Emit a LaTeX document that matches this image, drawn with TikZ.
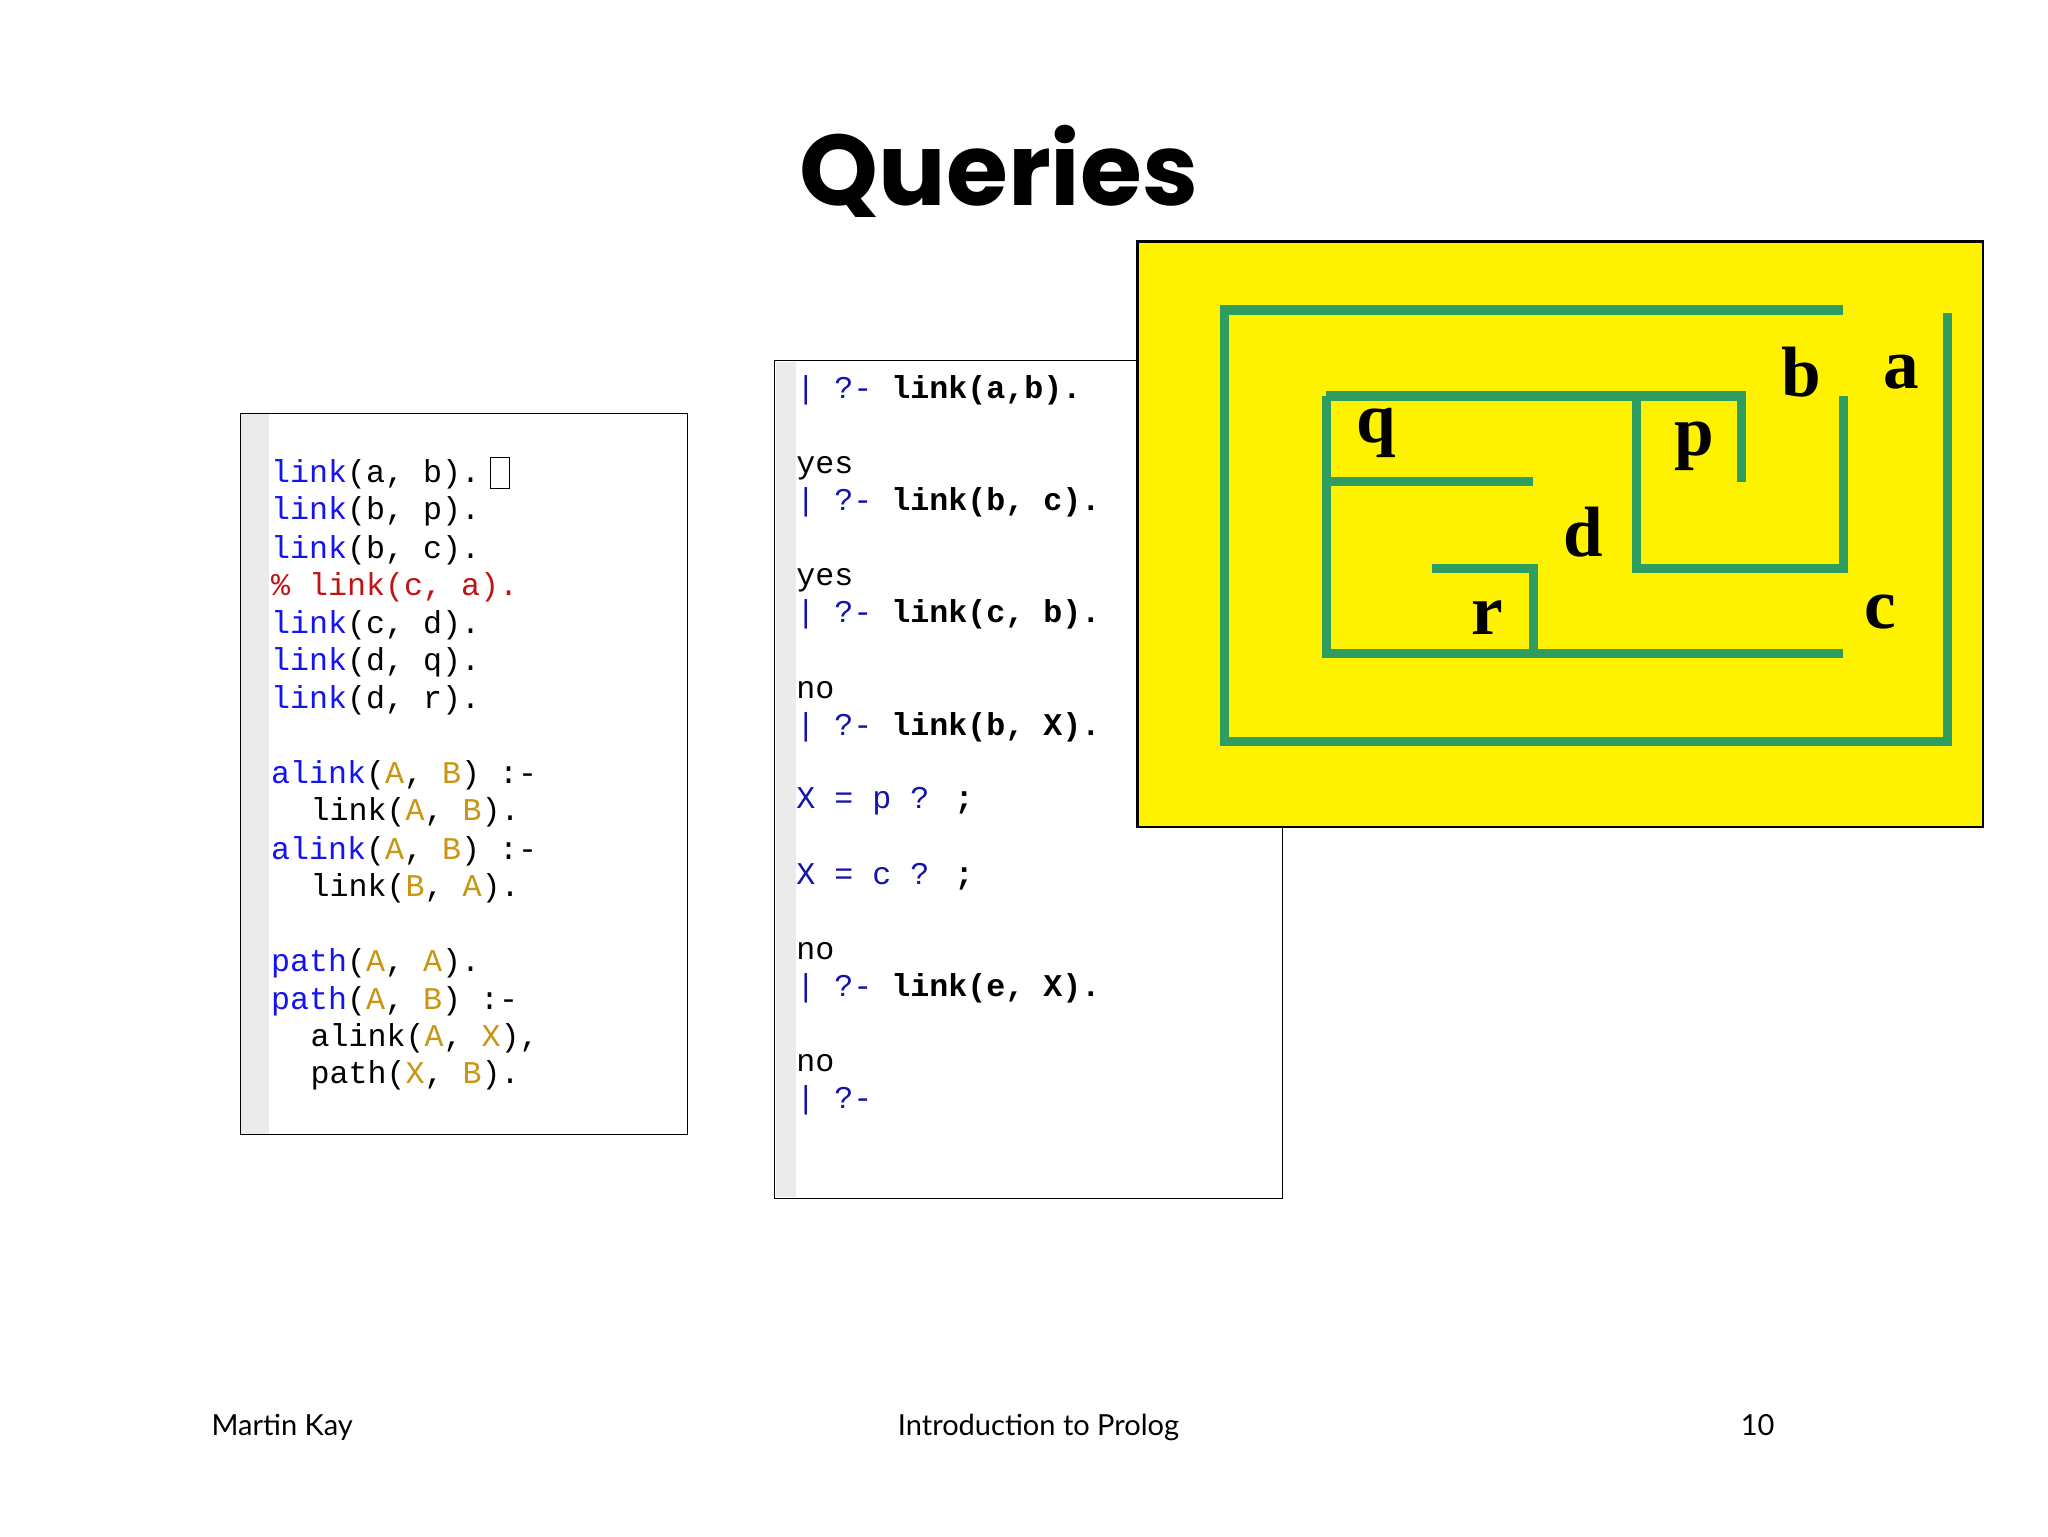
\documentclass[tikz,border=0pt]{standalone}
\usepackage{fontspec}
\setmainfont{Liberation Serif}
\newfontfamily\monof{Liberation Mono}
\newfontfamily\titlef{Poppins}
\newfontfamily\footf{Lato}
\definecolor{lb}{RGB}{20,20,240}
\definecolor{vg}{RGB}{200,150,20}
\definecolor{cr}{RGB}{190,20,20}
\definecolor{qb}{RGB}{20,20,170}
\definecolor{mz}{RGB}{46,158,96}
\newcommand\kw[1]{\textcolor{lb}{#1}}
\newcommand\vv[1]{\textcolor{vg}{#1}}
\begin{document}
\begin{tikzpicture}[x=0.5pt,y=-0.5pt,
  code/.style={anchor=base west,inner sep=0,font=\monof\fontsize{12}{14}\selectfont},
  lab/.style={anchor=center,inner sep=0,font=\bfseries\fontsize{27}{30}\selectfont},
  maze/.style={draw=mz,line width=3.5pt},
  foot/.style={anchor=base,inner sep=0,font=\footf\fontsize{11}{13}\selectfont}]
\useasboundingbox (0,0) rectangle (1552,1164);
\node[anchor=center,font=\titlef\bfseries\fontsize{38}{44}\selectfont] (title) at (757,130) {Queries};
% left box
\draw[fill=white] (182,313) rectangle (521,860);
\fill[black!8] (183,314) rectangle (204,859);
\node[code] (l1) at (205,366) {\kw{link}(a, b).};
\draw (372,347) rectangle (386,370);
\node[code] (l2) at (205,394) {\kw{link}(b, p).};
\node[code] (l3) at (205,423) {\kw{link}(b, c).};
\node[code] (l4) at (205,451) {\textcolor{cr}{\% link(c, a).}};
\node[code] (l5) at (205,480) {\kw{link}(c, d).};
\node[code] (l6) at (205,508) {\kw{link}(d, q).};
\node[code] (l7) at (205,537) {\kw{link}(d, r).};
\node[code] (l8) at (205,594) {\kw{alink}(\vv{A}, \vv{B}) :-};
\node[code] (l9) at (235,622) {link(\vv{A}, \vv{B}).};
\node[code] (l10) at (205,651) {\kw{alink}(\vv{A}, \vv{B}) :-};
\node[code] (l11) at (235,679) {link(\vv{B}, \vv{A}).};
\node[code] (l12) at (205,736) {\kw{path}(\vv{A}, \vv{A}).};
\node[code] (l13) at (205,765) {\kw{path}(\vv{A}, \vv{B}) :-};
\node[code] (l14) at (235,793) {alink(\vv{A}, \vv{X}),};
\node[code] (l15) at (235,821) {path(\vv{X}, \vv{B}).};
% middle box
\draw[fill=white] (587,273) rectangle (972,908);
\fill[black!8] (588,274) rectangle (603,907);
\node[code] (m1) at (603,302) {\textcolor{qb}{| ?-} \textbf{link(a,b).}};
\node[code] (m2) at (603,359) {yes};
\node[code] (m3) at (603,387) {\textcolor{qb}{| ?-} \textbf{link(b, c).}};
\node[code] (m4) at (603,444) {yes};
\node[code] (m5) at (603,472) {\textcolor{qb}{| ?-} \textbf{link(c, b).}};
\node[code] (m6) at (603,529) {no};
\node[code] (m7) at (603,557) {\textcolor{qb}{| ?-} \textbf{link(b, X).}};
\node[code] (m8) at (603,613) {\textcolor{qb}{X = p ?} \textbf{;}};
\node[code] (m9) at (603,670) {\textcolor{qb}{X = c ?} \textbf{;}};
\node[code] (m10) at (603,727) {no};
\node[code] (m11) at (603,755) {\textcolor{qb}{| ?-} \textbf{link(e, X).}};
\node[code] (m12) at (603,812) {no};
\node[code] (m13) at (603,840) {\textcolor{qb}{| ?-}};
% yellow maze
\draw[fill=yellow,line width=0.8pt] (862,183) rectangle (1503,627);
\draw[maze] (1397,235) -- (928,235) -- (928,562) -- (1476,562) -- (1476,237);
\draw[maze] (1005,300) -- (1320,300) -- (1320,365);
\draw[maze] (1005,300) -- (1005,495) -- (1397,495);
\draw[maze] (1005,365) -- (1162,365);
\draw[maze] (1240,300) -- (1240,431) -- (1397,431) -- (1397,300);
\draw[maze] (1085,431) -- (1162,431) -- (1162,495);
\node[lab] (nb) at (1365,282) {b};
\node[lab] (na) at (1441,282) {a};
\node[lab] (nq) at (1043,328) {q};
\node[lab] (np) at (1284,338) {p};
\node[lab] (nd) at (1200,403) {d};
\node[lab] (nr) at (1127,468) {r};
\node[lab] (nc) at (1425,464) {c};
% footer
\node[foot,anchor=base west] (f1) at (160,1088) {Martin Kay};
\node[foot] (f2) at (787,1088) {Introduction to Prolog};
\node[foot] (f3) at (1332,1088) {10};
\end{tikzpicture}
\end{document}
